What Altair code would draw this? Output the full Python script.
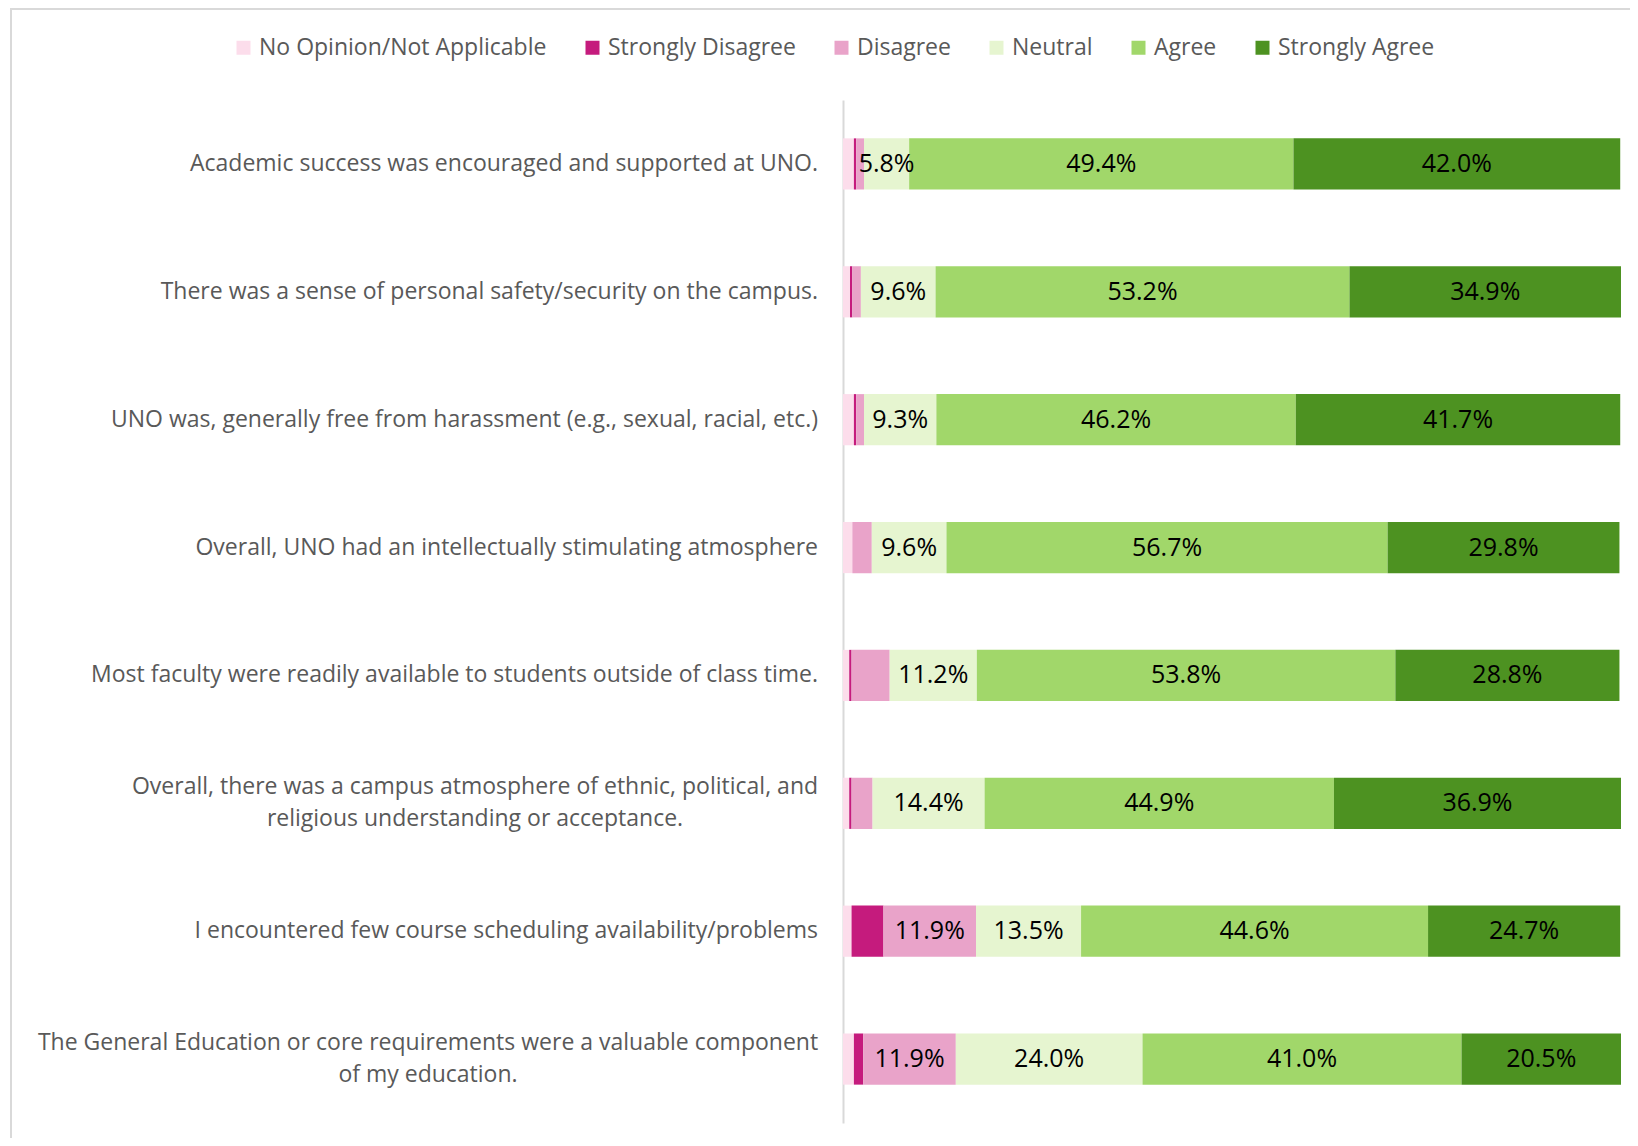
import altair as alt
import pandas as pd

items = [
    "Academic success was encouraged and supported at UNO.",
    "There was a sense of personal safety/security on the campus.",
    "UNO was, generally free from harassment (e.g., sexual, racial, etc.)",
    "Overall, UNO had an intellectually stimulating atmosphere",
    "Most faculty were readily available to students outside of class time.",
    "Overall, there was a campus atmosphere of ethnic, political, and\nreligious understanding or acceptance.",
    "I encountered few course scheduling availability/problems",
    "The General Education or core requirements were a valuable component\nof my education.",
]
categories = ["No Opinion/Not Applicable", "Strongly Disagree", "Disagree",
              "Neutral", "Agree", "Strongly Agree"]
no_opinion = [1.4, 0.9, 1.4, 1.2, 0.8, 0.8, 1.1, 1.4]
strongly_disagree = [0.3, 0.3, 0.3, 0.0, 0.3, 0.3, 4.1, 1.2]
disagree = [1.0, 1.1, 1.0, 2.5, 4.9, 2.7, 11.9, 11.9]
neutral = [5.8, 9.6, 9.3, 9.6, 11.2, 14.4, 13.5, 24.0]
agree = [49.4, 53.2, 46.2, 56.7, 53.8, 44.9, 44.6, 41.0]
strongly_agree = [42.0, 34.9, 41.7, 29.8, 28.8, 36.9, 24.7, 20.5]
colors = ["#FCDDEB", "#C51B7D", "#E9A3C9", "#E6F5D0", "#A1D76A", "#4D9221"]

series = [no_opinion, strongly_disagree, disagree, neutral, agree, strongly_agree]
rows = []
for i, item in enumerate(items):
    start = 0.0
    for k, cat in enumerate(categories):
        v = series[k][i]
        rows.append({"item": item, "category": cat, "order": k, "value": v,
                     "start": start, "end": start + v, "mid": start + v / 2,
                     "label": f"{v:.1f}%" if v >= 5 else ""})
        start += v
df = pd.DataFrame(rows)

# label placement (style): multi-line labels are centered blocks
label_rows = []
center_offsets = {items[5]: -368, items[7]: -415}
for item in items:
    label_rows.append({"item": item, "multi": "\n" in item,
                       "cx": center_offsets.get(item, -25)})
ldf = pd.DataFrame(label_rows)

FONT = "Open Sans"
LABEL_SIZE = 23
ysc = alt.Scale(domain=items, paddingInner=0.6, paddingOuter=0.3)
xsc = alt.Scale(domain=[0, 100], nice=False)

bars = alt.Chart(df).mark_bar().encode(
    y=alt.Y("item:N", scale=ysc, sort=items,
            axis=alt.Axis(labels=False, ticks=False, title=None,
                          domainColor="#D9D9D9", domainWidth=2)),
    x=alt.X("start:Q", scale=xsc, axis=None),
    x2="end:Q",
    color=alt.Color("category:N", sort=categories,
                    scale=alt.Scale(domain=categories, range=colors),
                    legend=alt.Legend(orient="none", direction="horizontal",
                                      legendX=-611, legendY=-64, title=None,
                                      symbolType="square", symbolSize=196,
                                      symbolStrokeWidth=0, labelFont=FONT,
                                      labelFontSize=LABEL_SIZE, labelColor="#595959",
                                      labelLimit=0,
                                      columnPadding=34, labelOffset=4,
                                      padding=0, columns=6)),
    order=alt.Order("order:Q"),
)

values = alt.Chart(df).mark_text(font=FONT, fontSize=25, color="#000000",
                                 baseline="middle").encode(
    y=alt.Y("item:N", scale=ysc, sort=items),
    x=alt.X("mid:Q", scale=xsc),
    text="label:N",
)

ylab_single = alt.Chart(ldf).transform_filter("!datum.multi").mark_text(
    font=FONT, fontSize=LABEL_SIZE, color="#595959", align="right", baseline="middle"
).encode(
    y=alt.Y("item:N", scale=ysc, sort=items),
    x=alt.value(-25),
    text="item:N",
)

ylab_multi = alt.Chart(ldf).transform_filter("datum.multi").mark_text(
    font=FONT, fontSize=LABEL_SIZE, color="#595959", align="center", baseline="middle",
    lineBreak="\n", lineHeight=32, dy=-16
).encode(
    y=alt.Y("item:N", scale=ysc, sort=items),
    x=alt.X("cx:Q", scale=None),
    text="item:N",
)

# chart-area frame (decoration): left and top edges
frame_left = alt.Chart(ldf).mark_rule(color="#D9D9D9", strokeWidth=2).encode(
    x=alt.value(-832), y=alt.value(-92), y2=alt.value(1046))
frame_top = alt.Chart(ldf).mark_rule(color="#D9D9D9", strokeWidth=2).encode(
    x=alt.value(-833), x2=alt.value(795), y=alt.value(-91))

chart = alt.layer(frame_left, frame_top, bars, values, ylab_single, ylab_multi).properties(
    width=778, height=1023,
    autosize=alt.AutoSizeParams(type="none"),
    padding={"left": 835, "top": 92, "right": 9, "bottom": 15},
).configure_view(stroke=None).configure_axis(grid=False)

chart.save("out.html", embed_options={"renderer": "svg", "actions": False})
